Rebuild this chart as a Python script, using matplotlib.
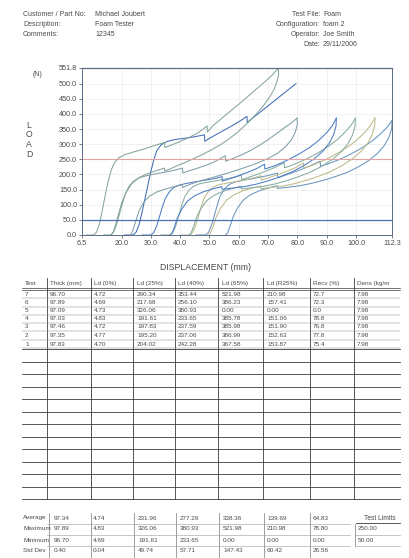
import matplotlib.pyplot as plt
from matplotlib.lines import Line2D

W, H = 409, 558

# report header
left_labels = ["Customer / Part No:", "Description:", "Comments:"]
left_values = ["Michael Joubert", "Foam Tester", "12345"]
right_labels = ["Test File:", "Configuration:", "Operator:", "Date:"]
right_values = ["Foam", "foam 2", "Joe Smith", "29/11/2006"]

# chart axes
x_ticks = [6.5, 20.0, 30.0, 40.0, 50.0, 60.0, 70.0, 80.0, 90.0, 100.0, 112.3]
y_ticks = [0.0, 50.0, 100.0, 150.0, 200.0, 250.0, 300.0, 350.0, 400.0, 450.0, 500.0, 551.8]
limit_high = 250.0
limit_low = 50.0

# load / displacement traces (mm, N)
load_7 = [(8.0, 0), (10.5, 0), (11.5, 10), (12.5, 38), (13.5, 85), (14.5, 135), (15.5, 180), (16.5, 215),
          (17.5, 238), (19, 255), (21, 265), (24, 274), (28, 285), (31, 295), (34.7, 306), (34.8, 289),
          (37, 297), (40, 309), (43, 322), (46, 337), (49.2, 360), (49.3, 340), (51, 360), (54, 384),
          (57, 408), (60, 432), (63, 457), (66, 482), (69, 507), (71.5, 529), (73.5, 551)]
unload_7 = [(73.5, 551), (73.6, 530), (73.0, 505), (72.0, 480), (70.5, 455), (68.5, 428), (66, 400),
            (63, 370), (60, 343), (57, 320), (54, 300), (51, 283), (48, 268), (45, 254), (42, 241),
            (39, 229), (36.5, 218), (34.7, 211), (34.6, 221), (32, 213), (29, 203), (26, 190),
            (23.5, 170), (21.5, 140), (20, 105), (19, 70), (18, 35), (17.2, 10), (16.5, 0)]

load_6 = [(14, 0), (16.3, 0), (17.3, 10), (18.3, 35), (19.3, 70), (20.3, 105), (21.3, 135), (22.5, 160),
          (24, 177), (26, 189), (29, 197), (32, 203), (35, 208), (38, 214), (40.8, 221), (40.9, 205),
          (43, 212), (46, 221), (49, 231), (52, 243), (55.4, 262), (55.5, 244), (58, 253), (61, 265),
          (64, 279), (67, 296), (70, 315), (73, 336), (76, 357), (78, 371), (79.9, 386)]
unload_6 = [(79.9, 386), (80.0, 365), (79.3, 340), (78, 315), (76, 292), (73.5, 272), (70.5, 255),
            (67, 240), (63, 226), (59, 213), (55, 201), (51, 190), (47, 179), (43.5, 168), (40.8, 157),
            (40.7, 166), (38, 160), (35, 152), (32, 142), (29.5, 128), (27.5, 108), (26, 80), (25, 50),
            (24, 20), (23.2, 0)]

load_5 = [(21, 0), (24, 0), (25, 10), (26, 35), (27, 75), (28, 120), (29, 165), (30, 210), (31, 248),
          (32, 278), (33.5, 298), (35.5, 309), (38, 315), (41, 319), (44, 323), (48.3, 331), (48.4, 310),
          (51, 325), (54, 341), (57, 357), (60, 374), (62.8, 392), (62.9, 372), (79.5, 500)]
unload_5 = []

load_4 = [(27, 0), (30, 0), (31, 8), (32, 30), (33, 62), (34, 95), (35, 122), (36.5, 145), (38, 158),
          (40, 166), (43, 172), (46, 177), (49, 182), (52, 187), (54.3, 193), (54.4, 178), (57, 186),
          (60, 196), (63, 207), (66, 219), (68.8, 234), (68.9, 218), (72, 228), (75, 240), (78, 254),
          (81, 270), (84, 288), (87, 310), (90, 338), (92, 362), (93.3, 386)]
unload_4 = [(93.3, 386), (93.2, 360), (92.3, 330), (90.8, 302), (88.5, 275), (85.5, 250), (82, 228),
            (78, 208), (74, 192), (70, 179), (66, 168), (62, 160), (58, 155), (54.3, 151), (54.2, 160),
            (51, 152), (48, 143), (45, 130), (42.5, 112), (40.5, 85), (39, 55), (38, 25), (37.2, 5), (36.5, 0)]

load_3 = [(33.5, 0), (36.5, 0), (37.5, 8), (38.5, 30), (39.5, 63), (40.5, 97), (41.5, 125), (43, 148),
          (44.5, 161), (46.5, 169), (49.5, 175), (52.5, 180), (55.5, 185), (58.5, 191), (60.9, 198),
          (61, 183), (63.5, 191), (66.5, 201), (69.5, 212), (72.5, 224), (75.5, 239), (75.6, 222),
          (78.5, 232), (81.5, 244), (84.5, 258), (87.5, 274), (90.5, 292), (93.5, 314), (96.5, 342),
          (98.5, 365), (99.8, 386)]
unload_3 = [(99.8, 386), (99.7, 360), (98.8, 330), (97.3, 302), (95, 275), (92, 250), (88.5, 228),
            (84.5, 208), (80.5, 193), (76.5, 180), (72.5, 169), (68.5, 161), (64.5, 156), (60.9, 152),
            (60.8, 161), (57.5, 153), (54.5, 144), (51.5, 131), (49, 113), (47, 86), (45.5, 56),
            (44.5, 26), (43.7, 6), (43, 0)]

load_2 = [(40, 0), (43.2, 0), (44.2, 8), (45.2, 29), (46.2, 61), (47.2, 94), (48.2, 122), (49.7, 145),
          (51.2, 158), (53.2, 166), (56.2, 172), (59.2, 177), (62.2, 183), (65.2, 189), (67.5, 196),
          (67.6, 181), (70.2, 189), (73.2, 199), (76.2, 210), (79.2, 222), (82.1, 238), (82.2, 221),
          (85.2, 231), (88.2, 243), (91.2, 257), (94.2, 273), (97.2, 291), (100.2, 313), (103.2, 341),
          (105.2, 365), (106.5, 387)]
unload_2 = [(106.5, 387), (106.4, 361), (105.5, 331), (104, 303), (101.7, 276), (98.7, 251), (95.2, 229),
            (91.2, 209), (87.2, 194), (83.2, 181), (79.2, 170), (75.2, 162), (71.2, 157), (67.5, 153),
            (67.4, 162), (64.2, 154), (61.2, 145), (58.2, 132), (55.7, 114), (53.7, 87), (52.2, 57),
            (51.2, 27), (50.4, 7), (49.7, 0)]

load_1 = [(45.5, 0), (48.7, 0), (49.7, 9), (50.7, 32), (51.7, 66), (52.7, 100), (53.7, 130), (55.2, 153),
          (56.7, 167), (58.7, 175), (61.7, 181), (64.7, 186), (67.7, 192), (70.7, 198), (73.2, 205),
          (73.3, 189), (75.7, 197), (78.7, 207), (81.7, 218), (84.7, 230), (87.8, 244), (87.9, 227),
          (90.7, 236), (93.7, 247), (96.7, 260), (99.7, 275), (102.7, 292), (105.7, 312), (108.7, 337),
          (110.7, 357), (112.3, 378)]
unload_1 = [(112.3, 378), (112.2, 352), (111.3, 324), (109.8, 297), (107.5, 271), (104.5, 247), (101, 226),
            (97, 207), (93, 193), (89, 181), (85, 171), (81, 163), (77, 158), (73.2, 154), (73.1, 163),
            (70, 155), (67, 146), (64, 133), (61.5, 115), (59.5, 88), (58, 58), (57, 28), (56.2, 7), (55.5, 0)]

# results table
tests = ["7", "6", "5", "4", "3", "2", "1"]
thick = [96.70, 97.89, 97.09, 97.03, 97.46, 97.35, 97.83]
ld0 = [4.72, 4.69, 4.73, 4.83, 4.72, 4.77, 4.70]
ld25 = [290.34, 217.68, 326.06, 191.61, 197.83, 195.20, 204.02]
ld40 = [353.44, 256.10, 380.93, 233.65, 237.59, 237.06, 242.28]
ld65 = [521.98, 386.23, 0.00, 385.78, 385.98, 386.99, 367.58]
ldr25 = [210.98, 157.41, 0.00, 151.06, 151.90, 152.63, 153.87]
recv = [72.7, 72.3, 0.0, 78.8, 76.8, 77.8, 75.4]
dens = [7.98, 7.98, 7.98, 7.98, 7.98, 7.98, 7.98]
columns = ["Test", "Thick (mm)", "Ld (0%)", "Ld (25%)", "Ld (40%)", "Ld (65%)", "Ld (R25%)", "Recv (%)", "Dens (kg/m"]

stat_names = ["Average", "Maximum", "Minimum", "Std Dev"]
stat_average = [97.34, 4.74, 231.96, 277.29, 338.36, 139.69, 64.83]
stat_maximum = [97.89, 4.83, 326.06, 380.93, 521.98, 210.98, 78.80]
stat_minimum = [96.70, 4.69, 191.61, 233.65, 0.00, 0.00, 0.00]
stat_stddev = [0.40, 0.04, 49.74, 57.71, 147.43, 60.42, 26.56]
test_limits = [250.00, 50.00]

TXT = "#4a4a4a"
LINE = "#3c3c3c"
plt.rcParams["font.family"] = ["Liberation Sans", "DejaVu Sans"]


def fx(x):
    return x / W


def fy(y):
    return 1 - y / H


def text(x, y, s, size=5.0, ha="left", **kw):
    fig.text(fx(x), fy(y), s, fontsize=size, ha=ha, va="center", color=TXT, **kw)


def hline(y, x0, x1, lw=0.6, color=LINE):
    fig.add_artist(Line2D([fx(x0), fx(x1)], [fy(y), fy(y)], lw=lw, color=color))


def vline(x, y0, y1, lw=0.6, color=LINE):
    fig.add_artist(Line2D([fx(x), fx(x)], [fy(y0), fy(y1)], lw=lw, color=color))


fig = plt.figure(figsize=(W / 100, H / 100), dpi=100)
fig.patch.set_facecolor("white")

# header block
for i, (lab, val) in enumerate(zip(left_labels, left_values)):
    text(23, 14 + i * 10.2, lab)
    text(95, 14 + i * 10.2, val)
for i, (lab, val) in enumerate(zip(right_labels, right_values)):
    text(320, 14 + i * 10.2, lab, ha="right")
    text(323, 14 + i * 10.2, val)

# chart
ax = fig.add_axes([fx(82), fy(235), (392 - 82) / W, (235 - 68) / H])
traces = [(load_1, unload_1, "#6b95c0"), (load_2, unload_2, "#bdb98a"), (load_3, unload_3, "#86aca0"),
          (load_4, unload_4, "#4c7cc4"), (load_5, unload_5, "#3f6db5"), (load_6, unload_6, "#7f9fa6"),
          (load_7, unload_7, "#86a59a")]
for load, unload, c in traces:
    for path in (load, unload):
        if path:
            ax.plot([p[0] for p in path], [p[1] for p in path], color=c, lw=0.75)

ax.axhline(limit_high, color="#e3a3a3", lw=0.8)
ax.axhline(limit_low, color="#4a72b0", lw=0.9)

ax.set_xlim(x_ticks[0], x_ticks[-1])
ax.set_ylim(y_ticks[0], y_ticks[-1])
ax.set_xticks(x_ticks)
ax.set_yticks(y_ticks)
ax.set_xticklabels([f"{t:.1f}" for t in x_ticks])
ax.set_yticklabels([f"{t:.1f}" for t in y_ticks])
ax.tick_params(labelsize=5.2, colors=TXT, length=2, width=0.5, pad=1.5)
ax.grid(True, color="#ececec", lw=0.5)
ax.set_axisbelow(True)
for side, sp in ax.spines.items():
    sp.set_color("#5a6c86")
    sp.set_linewidth(0.7 if side != "top" else 0.9)

text(33, 74, "(N)", size=5)
for i, ch in enumerate("LOAD"):
    text(29, 125 + i * 9.7, ch, size=6.2, ha="center")
text(206, 267, "DISPLACEMENT (mm)", size=6.3, ha="center")

# results table
col_x = [47, 90.7, 133.3, 175, 218.3, 263.3, 310, 354]
col_txt = [25, 50, 94, 137, 178, 222, 267, 313, 357]
for x in col_x:
    vline(x, 278, 499)
text_rows = [294, 302.5, 310.5, 318.5, 327, 335.5, 344]
for cx, name in zip(col_txt, columns):
    text(cx, 283.5, name, size=4.6)
hline(288.4, 22, 400, lw=0.5)
hline(290.0, 22, 400, lw=0.5)
for i, y in enumerate(text_rows):
    vals = [tests[i], f"{thick[i]:.2f}", f"{ld0[i]:.2f}", f"{ld25[i]:.2f}", f"{ld40[i]:.2f}",
            f"{ld65[i]:.2f}", f"{ldr25[i]:.2f}", f"{recv[i]:.1f}", f"{dens[i]:.2f}"]
    for cx, v in zip(col_txt, vals):
        text(cx, y, v, size=4.6)
    hline(y + 4.2, 22, 400, lw=0.35, color="#8a8a8a")
for k in range(13):
    hline(349 + k * 12.5, 22, 400, lw=0.6)

# summary block
stats = [stat_average, stat_maximum, stat_minimum, stat_stddev]
stat_rows = [518, 529, 540, 551]
stat_txt = [54, 93, 138, 180, 223, 267, 313]
stat_sep = [49, 90.7, 134, 176, 219, 264, 310]
for name, vals, y in zip(stat_names, stats, stat_rows):
    text(23, y, name, size=4.6)
    for cx, v in zip(stat_txt, vals):
        text(cx, y, f"{v:.2f}", size=4.6)
for x in stat_sep:
    vline(x, 512.5, 557, lw=0.5, color="#777777")
for y in [523.5, 534.5, 545.5]:
    hline(y, 47, 350, lw=0.4, color="#9a9a9a")
text(380, 518, "Test Limits", size=4.8, ha="center")
hline(523.2, 356, 400, lw=0.6)
for v, y in zip(test_limits, stat_rows[1:3]):
    text(358, y, f"{v:.2f}", size=4.6)
vline(355, 523.5, 546, lw=0.5, color="#777777")
hline(534.5, 355, 400, lw=0.4, color="#9a9a9a")
hline(546, 355, 400, lw=0.4, color="#9a9a9a")

fig.savefig("out.png", dpi=100, facecolor="white")
